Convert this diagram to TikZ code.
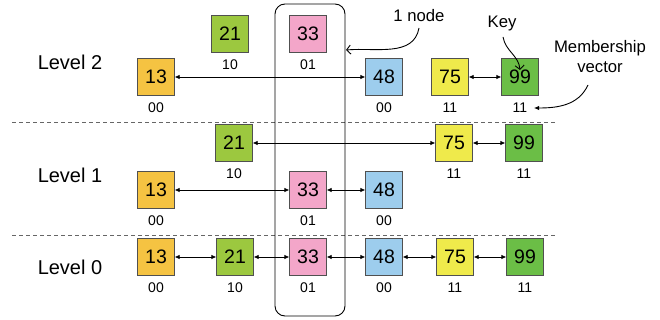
\documentclass[tikz,border=0pt]{standalone}
\usepackage{fontspec}
\setmainfont{Liberation Sans}
\usetikzlibrary{arrows.meta}

\definecolor{cOrange}{HTML}{F5C342}
\definecolor{cLime}{HTML}{9CC83F}
\definecolor{cPink}{HTML}{F3A6C9}
\definecolor{cBlue}{HTML}{9DCDED}
\definecolor{cYellow}{HTML}{EFEA4B}
\definecolor{cGreen}{HTML}{6BBE46}
\definecolor{cEdge}{HTML}{505050}

% one skip-list element: name, x, y, key, fill, membership vector
\newcommand\slelem[6]{%
  \node[keybox,fill=#5] (#1) at (#2,#3) {#4};
  \node[bits] (#1-v) at (#2,#3+31) {#6};}

\begin{document}
\begin{tikzpicture}[x=1pt,y=-1pt,
  keybox/.style={draw=cEdge,line width=0.8pt,minimum size=36.5pt,inner sep=0pt,
    font=\fontsize{19.5}{20}\selectfont},
  bits/.style={inner sep=0pt,font=\fontsize{14}{14}\selectfont},
  lvl/.style={inner sep=0pt,font=\fontsize{20}{20}\selectfont},
  note/.style={inner sep=0pt,font=\fontsize{16.7}{20}\selectfont,align=center},
  link/.style={line width=0.8pt,{Latex[length=5pt,width=4.5pt]}-{Latex[length=5pt,width=4.5pt]}},
  pointer/.style={line width=0.9pt,-{Straight Barb[length=4pt,width=9pt]}},
  sep/.style={draw=black!60,line width=0.8pt,dash pattern=on 4pt off 3pt}]
\useasboundingbox (0,0) rectangle (660,320);

% level separators
\draw[sep] (12,122) -- (557,122);
\draw[sep] (12,235) -- (557,235);

% level names
\node[lvl] (lv2) at (70,62) {Level 2};
\node[lvl] (lv1) at (70,175) {Level 1};
\node[lvl] (lv0) at (70,267) {Level 0};

% outline grouping one element across all levels
\draw[line width=0.9pt,rounded corners=10pt] (275,4) rectangle (345,316);
\coordinate (grp) at (346,50);

% level 2
\slelem{a21}{230}{34}{21}{cLime}{10}
\slelem{a33}{308}{34}{33}{cPink}{01}
\slelem{a13}{156}{77}{13}{cOrange}{00}
\slelem{a48}{384}{77}{48}{cBlue}{00}
\slelem{a75}{450}{77}{75}{cYellow}{11}
\slelem{a99}{520}{77}{99}{cGreen}{11}

% level 1
\slelem{b21}{234}{143}{21}{cLime}{10}
\slelem{b75}{454}{143}{75}{cYellow}{11}
\slelem{b99}{524}{143}{99}{cGreen}{11}
\slelem{b13}{156}{190}{13}{cOrange}{00}
\slelem{b33}{308}{190}{33}{cPink}{01}
\slelem{b48}{384}{190}{48}{cBlue}{00}

% level 0
\slelem{c13}{156}{257}{13}{cOrange}{00}
\slelem{c21}{235}{257}{21}{cLime}{10}
\slelem{c33}{308}{257}{33}{cPink}{01}
\slelem{c48}{384}{257}{48}{cBlue}{00}
\slelem{c75}{455}{257}{75}{cYellow}{11}
\slelem{c99}{525}{257}{99}{cGreen}{11}

% links
\draw[link] (a13) -- (a48);
\draw[link] (a75) -- (a99);
\draw[link] (b21) -- (b75);
\draw[link] (b75) -- (b99);
\draw[link] (b13) -- (b33);
\draw[link] (b33) -- (b48);
\draw[link] (c13) -- (c21);
\draw[link] (c21) -- (c33);
\draw[link] (c33) -- (c48);
\draw[link] (c48) -- (c75);
\draw[link] (c75) -- (c99);

% annotations
\node[note] (nnode) at (419,16) {1 node};
\coordinate (nnodeS) at (419,28);
\draw[pointer] (nnodeS) to[out=-100,in=5] (grp);

\node[note] (nkey) at (502,23) {Key};
\coordinate (nkeyS) at (503,37);
\coordinate (keyTip) at (520,70);
\draw[pointer] (nkeyS) to[out=-80,in=95] (keyTip);

\node[note] (nmem) at (600,57) {Membership\\vector};
\coordinate (nmemS) at (588,85);
\coordinate (memTip) at (534,108);
\draw[line width=0.9pt,-{Latex[length=5pt,width=4.5pt]}] (nmemS) to[out=-115,in=0] (memTip);
\end{tikzpicture}
\end{document}
